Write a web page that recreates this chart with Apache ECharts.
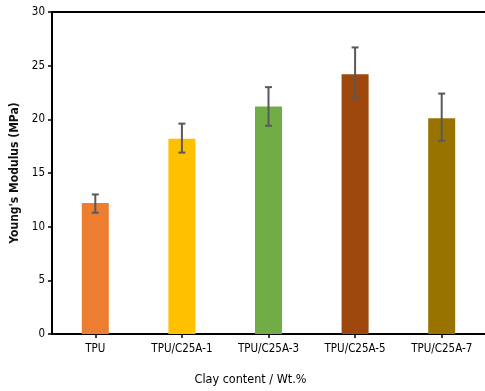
<!DOCTYPE html>
<html>
<head>
<meta charset="utf-8">
<script src="https://cdn.jsdelivr.net/npm/echarts@6/dist/echarts.min.js"></script>
<style>html,body{margin:0;padding:0;background:#fff}#c{width:485px;height:391px}</style>
</head>
<body>
<div id="c"></div>
<script>
const categories = ['TPU', 'TPU/C25A-1', 'TPU/C25A-3', 'TPU/C25A-5', 'TPU/C25A-7'];
const modulus = [12.2, 18.2, 21.2, 24.2, 20.1];
const errLow = [11.3, 16.9, 19.4, 21.9, 18.0];
const errHigh = [13.0, 19.6, 23.0, 26.7, 22.4];
const barColors = ['#ED7D31', '#FFC000', '#70AD47', '#9E480E', '#997300'];
const yTicks = [0, 5, 10, 15, 20, 25, 30];

const font = '"DejaVu Sans Condensed", "Open Sans", sans-serif';
const chart = echarts.init(document.getElementById('c'), null, {renderer: 'canvas'});
chart.setOption({
  animation: false,
  grid: {left: 52, top: 12, width: 435, height: 327, containLabel: false},
  xAxis: [{
    type: 'category', data: categories, position: 'bottom',
    axisLine: {lineStyle: {color: '#000', width: 2}},
    axisTick: {show: true, alignWithLabel: true, length: 4, lineStyle: {color: '#000', width: 1.5}, interval: 0},
    axisLabel: {color: '#000', fontFamily: font, fontSize: 11.5, margin: 9, interval: 0},
    name: 'Clay content / Wt.%', nameLocation: 'middle', nameGap: 39,
    nameTextStyle: {color: '#000', fontFamily: font, fontSize: 12.5, padding: [0, 36, 0, 0]}
  }, {
    type: 'category', data: categories, position: 'top',
    axisLine: {show: true, lineStyle: {color: '#000', width: 2}},
    axisTick: {show: false}, axisLabel: {show: false}
  }],
  yAxis: {
    type: 'value', min: yTicks[0], max: yTicks[yTicks.length - 1], interval: 5,
    axisLine: {show: true, lineStyle: {color: '#000', width: 2}},
    axisTick: {show: true, length: 4, lineStyle: {color: '#000', width: 1.5}},
    axisLabel: {color: '#000', fontFamily: font, fontSize: 11.5, margin: 7},
    splitLine: {show: false},
    name: "Young's Modulus (MPa)", nameLocation: 'middle', nameGap: 27,
    nameTextStyle: {color: '#111', fontFamily: font, fontSize: 12, fontWeight: 'bold'}
  },
  series: [{
    type: 'bar', barWidth: 27, xAxisIndex: 0,
    data: modulus.map((v, i) => ({value: v, itemStyle: {color: barColors[i]}}))
  }, {
    type: 'custom', xAxisIndex: 0, z: 10,
    data: categories.map((c, i) => [i, errLow[i], errHigh[i]]),
    renderItem: function (params, api) {
      const lo = api.coord([api.value(0), api.value(1)]);
      const hi = api.coord([api.value(0), api.value(2)]);
      const x = lo[0], hw = 3.5;
      const st = {stroke: '#595959', lineWidth: 2};
      return {type: 'group', children: [
        {type: 'line', shape: {x1: x, y1: lo[1], x2: x, y2: hi[1]}, style: st},
        {type: 'line', shape: {x1: x - hw, y1: lo[1], x2: x + hw, y2: lo[1]}, style: st},
        {type: 'line', shape: {x1: x - hw, y1: hi[1], x2: x + hw, y2: hi[1]}, style: st}
      ]};
    }
  }]
});
</script>
</body>
</html>
